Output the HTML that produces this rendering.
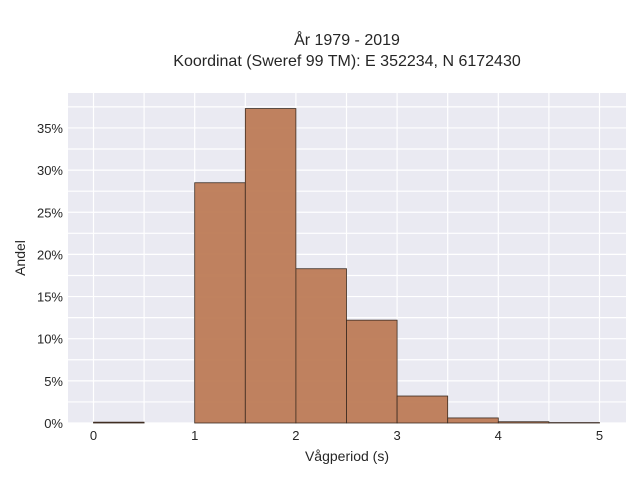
<!DOCTYPE html>
<html><head><meta charset="utf-8"><style>
body{margin:0;background:#fff;font-family:"Liberation Sans",sans-serif}
</style></head><body>
<svg width="640" height="480" xmlns="http://www.w3.org/2000/svg" id="chart">
<text x="347" y="45" text-anchor="middle" font-size="16" fill="#262626">År 1979 - 2019</text>
<text x="347" y="66" text-anchor="middle" font-size="16" fill="#262626">Koordinat (Sweref 99 TM): E 352234, N 6172430</text>
<rect x="68" y="93" width="558" height="330" fill="#eaeaf2"/>
<g id="grid"></g><g id="bars"></g><g id="ticks"></g>
<text x="347" y="461" text-anchor="middle" font-size="14" fill="#262626">Vågperiod (s)</text>
<text transform="translate(25,258) rotate(-90)" text-anchor="middle" font-size="14" fill="#262626">Andel</text>
</svg>
<script>
const binStarts=[0,0.5,1,1.5,2,2.5,3,3.5,4,4.5];
const shares=[0.1,0,28.5,37.3,18.3,12.2,3.2,0.6,0.15,0.05];
const xTicks=[0,1,2,3,4,5];
const yTicks=[0,5,10,15,20,25,30,35];
const X=v=>93.5+v*101.2, Y=v=>423-v*8.43;
const NS="http://www.w3.org/2000/svg";
function mk(p,t,a){const e=document.createElementNS(NS,t);for(const k in a)e.setAttribute(k,a[k]);document.getElementById(p).appendChild(e);return e;}
for(let v=0;v<=5.001;v+=0.5){const g=mk('grid','line',{x1:X(v),x2:X(v),y1:93,y2:423,stroke:'#fff','stroke-width':1.2});

}
for(let v=0;v<=37.5;v+=2.5){const g=mk('grid','line',{x1:68,x2:626,y1:Y(v),y2:Y(v),stroke:'#fff','stroke-width':1.2});

}
binStarts.forEach((s,i)=>{if(shares[i]<=0)return;const r=mk('bars','rect',{x:X(s),y:Y(shares[i]),width:X(s+0.5)-X(s),height:423-Y(shares[i]),fill:'#bd7b56','fill-opacity':0.95,stroke:'#3a2a20','stroke-width':0.8});

});
xTicks.forEach(v=>{const t=mk('ticks','text',{x:X(v),y:440,'text-anchor':'middle','font-size':13,fill:'#262626'});t.textContent=v;

});
yTicks.forEach(v=>{const t=mk('ticks','text',{x:63,y:Y(v)+5,'text-anchor':'end','font-size':13,fill:'#262626'});t.textContent=v+'%';

});
</script>
</body></html>
